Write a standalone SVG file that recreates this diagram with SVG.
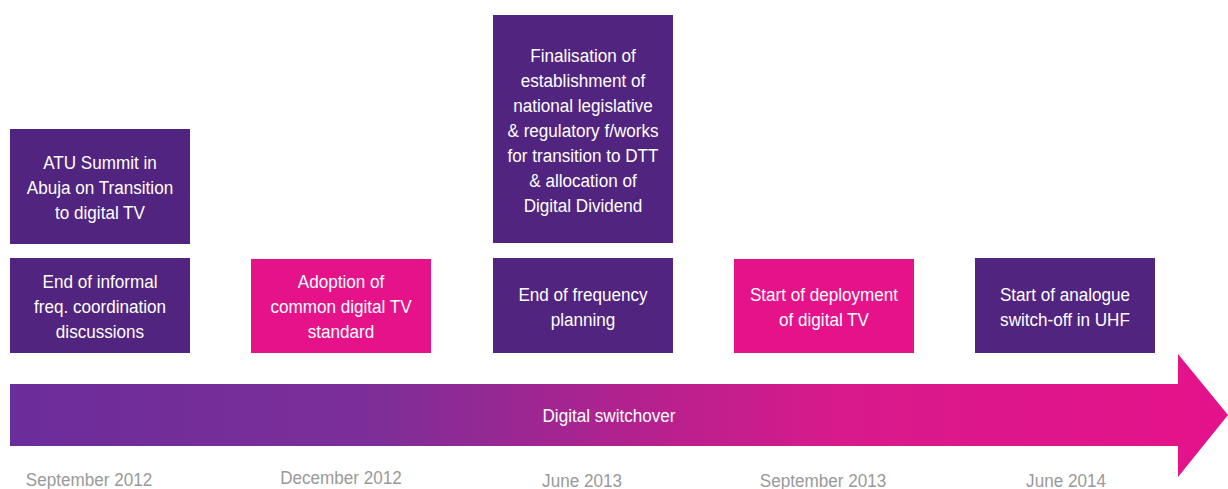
<svg xmlns="http://www.w3.org/2000/svg" width="1228" height="489" viewBox="0 0 1228 489">
  <style>
    .purple { fill: #512480; }
    .pink { fill: #e5128a; }
    .lbl { font-family: "Liberation Sans", Arial, sans-serif; font-size: 19px; fill: #ffffff; text-anchor: middle; }
    .date { font-family: "Liberation Sans", Arial, sans-serif; font-size: 19px; fill: #999999; text-anchor: middle; }
  </style>
  <defs>
    <linearGradient id="arrowGrad" x1="10" y1="0" x2="1228" y2="0" gradientUnits="userSpaceOnUse">
      <stop offset="0" stop-color="#6b2d9b"/>
      <stop offset="0.3" stop-color="#7d2e98"/>
      <stop offset="0.5" stop-color="#b0228f"/>
      <stop offset="0.68" stop-color="#d81a8b"/>
      <stop offset="1" stop-color="#e5128a"/>
    </linearGradient>
  </defs>
  <rect width="1228" height="489" fill="#ffffff"/>

  <g id="timeline-arrow">
    <polygon points="10,384 1178,384 1178,354 1228,415 1178,477 1178,446 10,446" fill="url(#arrowGrad)"/>
    <g transform="translate(609,422) scale(0.9,1)"><text class="lbl" x="0" y="0">Digital switchover</text></g>
  </g>

  <g id="node-atu">
    <rect class="purple" x="10" y="129" width="180" height="115"/>
    <g transform="translate(100,0) scale(0.9,1)">
      <text class="lbl" x="0" y="169">ATU Summit in</text>
      <text class="lbl" x="0" y="194">Abuja on Transition</text>
      <text class="lbl" x="0" y="219">to digital TV</text>
    </g>
  </g>

  <g id="node-informal">
    <rect class="purple" x="10" y="258" width="180" height="95"/>
    <g transform="translate(100,0) scale(0.9,1)">
      <text class="lbl" x="0" y="288">End of informal</text>
      <text class="lbl" x="0" y="313">freq. coordination</text>
      <text class="lbl" x="0" y="338">discussions</text>
    </g>
  </g>

  <g id="node-adoption">
    <rect class="pink" x="251" y="259" width="180" height="94"/>
    <g transform="translate(341,0) scale(0.9,1)">
      <text class="lbl" x="0" y="288">Adoption of</text>
      <text class="lbl" x="0" y="313">common digital TV</text>
      <text class="lbl" x="0" y="338">standard</text>
    </g>
  </g>

  <g id="node-finalisation">
    <rect class="purple" x="493" y="15" width="180" height="228"/>
    <g transform="translate(583,0) scale(0.9,1)">
      <text class="lbl" x="0" y="62">Finalisation of</text>
      <text class="lbl" x="0" y="87">establishment of</text>
      <text class="lbl" x="0" y="112">national legislative</text>
      <text class="lbl" x="0" y="137">&amp; regulatory f/works</text>
      <text class="lbl" x="0" y="162">for transition to DTT</text>
      <text class="lbl" x="0" y="187">&amp; allocation of</text>
      <text class="lbl" x="0" y="212">Digital Dividend</text>
    </g>
  </g>

  <g id="node-frequency">
    <rect class="purple" x="493" y="258" width="180" height="95"/>
    <g transform="translate(583,0) scale(0.9,1)">
      <text class="lbl" x="0" y="301">End of frequency</text>
      <text class="lbl" x="0" y="326">planning</text>
    </g>
  </g>

  <g id="node-deployment">
    <rect class="pink" x="734" y="259" width="180" height="94"/>
    <g transform="translate(824,0) scale(0.9,1)">
      <text class="lbl" x="0" y="301">Start of deployment</text>
      <text class="lbl" x="0" y="326">of digital TV</text>
    </g>
  </g>

  <g id="node-switchoff">
    <rect class="purple" x="975" y="258" width="180" height="95"/>
    <g transform="translate(1065,0) scale(0.9,1)">
      <text class="lbl" x="0" y="301">Start of analogue</text>
      <text class="lbl" x="0" y="326">switch-off in UHF</text>
    </g>
  </g>

  <g id="dates">
    <g transform="translate(89,486) scale(0.9,1)"><text class="date" x="0" y="0">September 2012</text></g>
    <g transform="translate(341,484) scale(0.9,1)"><text class="date" x="0" y="0">December 2012</text></g>
    <g transform="translate(582,487) scale(0.9,1)"><text class="date" x="0" y="0">June 2013</text></g>
    <g transform="translate(823,487) scale(0.9,1)"><text class="date" x="0" y="0">September 2013</text></g>
    <g transform="translate(1066,487) scale(0.9,1)"><text class="date" x="0" y="0">June 2014</text></g>
  </g>
</svg>
